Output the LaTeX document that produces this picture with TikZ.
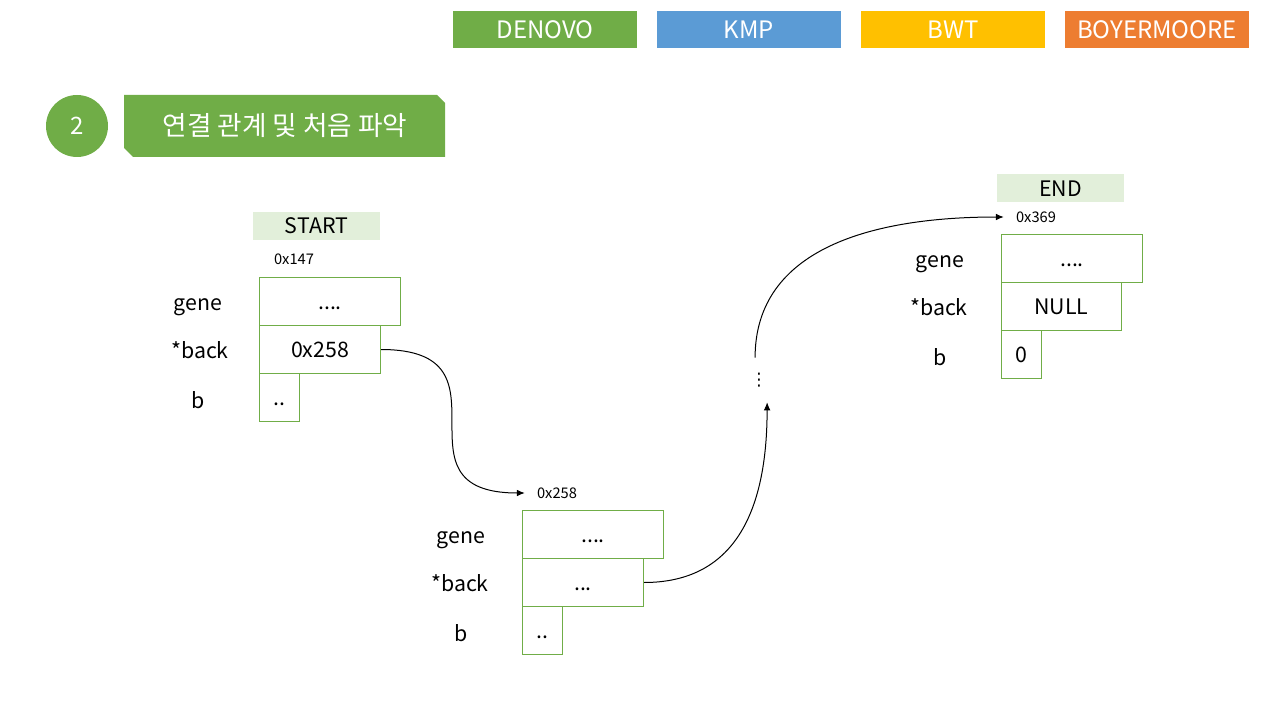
\documentclass[tikz,border=0pt]{standalone}
\usepackage{fontspec}
\setmainfont{Noto Sans CJK KR}
\newfontfamily\symfont{DejaVu Sans}
\usetikzlibrary{positioning,arrows.meta}

\definecolor{denovo}{HTML}{70AD47}
\definecolor{kmp}{HTML}{5B9BD5}
\definecolor{bwt}{HTML}{FFC000}
\definecolor{boyer}{HTML}{ED7D31}
\definecolor{taggreen}{HTML}{E2EFDA}

\begin{document}
\begin{tikzpicture}[x=0.75pt, y=-0.75pt,
    field/.style={draw=denovo, line width=0.75pt, minimum height=36pt, inner sep=0pt, text height=11.7pt, text depth=0pt, anchor=north west, font=\fontsize{16}{19}\selectfont},
    lbl/.style={text height=11.7pt, text depth=0pt, font=\fontsize{16}{19}\selectfont},
    addr/.style={font=\fontsize{11}{13}\selectfont, inner xsep=9pt},
    tag/.style={fill=taggreen, minimum width=95.25pt, minimum height=21pt, inner sep=0pt, font=\fontsize{16}{19}\selectfont},
    tab/.style={minimum width=138pt, minimum height=27.75pt, inner sep=0pt, text=white, font=\fontsize{18}{21}\selectfont},
    link/.style={line width=0.75pt, -{Latex[length=6pt,width=5pt]}}]
    \useasboundingbox (0,0) rectangle (1280,720);
    % algorithm tabs
    \node[tab, fill=denovo] (tDenovo) at (545,29.5) {DENOVO};
    \node[tab, fill=kmp] (tKmp) at (749,29.5) {KMP};
    \node[tab, fill=bwt] (tBwt) at (953,29.5) {BWT};
    \node[tab, fill=boyer] (tBoyer) at (1157,29.5) {BOYERMOORE};
    % step title
    \node[circle, fill=denovo, minimum size=46.5pt, inner sep=0pt, text=white, font=\fontsize{18}{21}\selectfont] (num) at (77,126) {2};
    \fill[denovo] (124,95) -- (437,95) -- (445,103) -- (445,157) -- (133,157) -- (124,148) -- cycle;
    \node[text=white, font=\fontsize{20}{24}\selectfont] (title) at (285,126) {연결 관계 및 처음 파악};
    % first node
    \node[tag] (start) at (316.5,226) {START};
    \begin{scope}[shift={(259,277)}]
        \node[addr] (a1) at (35,-18) {0x147};
        \node[field, minimum width=105.75pt] (g1) at (0,0) {....};
        \node[field, minimum width=90.75pt] (k1) at (0,48) {0x258};
        \node[field, minimum width=30pt] (b1) at (0,96) {..};
        \node[lbl] at (-61,26) {gene};
        \node[lbl] at (-59,74) {*back};
        \node[lbl] at (-61,124) {b};
    \end{scope}
    % second node
    \begin{scope}[shift={(522,510)}]
        \node[addr] (a2) at (35,-17) {0x258};
        \node[field, minimum width=105.75pt] (g2) at (0,0) {....};
        \node[field, minimum width=90.75pt] (k2) at (0,48) {...};
        \node[field, minimum width=30pt] (b2) at (0,96) {..};
        \node[lbl] at (-61,26) {gene};
        \node[lbl] at (-62,74) {*back};
        \node[lbl] at (-61,124) {b};
    \end{scope}
    % last node
    \node[tag] (end) at (1060.5,188.5) {END};
    \begin{scope}[shift={(1001,234)}]
        \node[addr] (a3) at (35,-17) {0x369};
        \node[field, minimum width=105.75pt] (g3) at (0,0) {....};
        \node[field, minimum width=90pt] (k3) at (0,48) {NULL};
        \node[field, minimum width=30pt] (b3) at (0,96) {0};
        \node[lbl] at (-61,26) {gene};
        \node[lbl] at (-62,74) {*back};
        \node[lbl] at (-61,124) {b};
    \end{scope}
    \node[minimum width=13.5pt, minimum height=33pt, inner sep=0pt, font=\fontsize{13}{15}\selectfont] (dots) at (759,380) {\symfont ⋮};
    % links
    \draw[link] (k1.east) .. controls +(140,0) and +(-140,0) .. (a2.west);
    \draw[link] (k2.east) .. controls +(90,0) and +(0,110) .. (dots.-70);
    \draw[link] (dots.100) .. controls +(0,-110) and +(-130,0) .. (a3.west);
\end{tikzpicture}
\end{document}
